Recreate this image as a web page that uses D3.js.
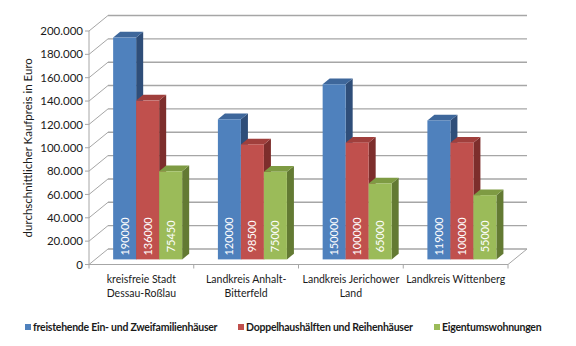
<!DOCTYPE html>
<html><head><meta charset="utf-8">
<script src="https://cdn.jsdelivr.net/npm/d3@7"></script>
<style>body{margin:0;background:#fff}svg{display:block}text{font-family:Lato,"Open Sans",sans-serif}</style>
</head><body>
<svg id="c" width="576" height="346"></svg>
<script>
const categories = [["kreisfreie Stadt","Dessau-Roßlau"],["Landkreis Anhalt-","Bitterfeld"],["Landkreis Jerichower","Land"],["Landkreis Wittenberg"]];
const seriesNames = ["freistehende Ein- und Zweifamilienhäuser","Doppelhaushälften und Reihenhäuser","Eigentumswohnungen"];
const freistehend = [190000,120000,150000,119000];
const doppelhaus = [136000,98500,100000,100000];
const eigentum = [75450,75000,65000,55000];
const yTicks = [0,20000,40000,60000,80000,100000,120000,140000,160000,180000,200000];
const yTickLabels = ["0","20.000","40.000","60.000","80.000","100.000","120.000","140.000","160.000","180.000","200.000"];
const yTitle = "durchschnittlicher Kaufpreis in Euro";

const series = [freistehend, doppelhaus, eigentum];
const colors = [
  {front:"#4F81BD", top:"#3E679B", side:"#2F4E79"},
  {front:"#C0504D", top:"#A03F3C", side:"#7D2E2C"},
  {front:"#9BBB59", top:"#7E9B43", side:"#637A33"}
];

const svg = d3.select("#c");
const x0 = 89, x1 = 508, DX = 19, DY = -15.5;
const y = d3.scaleLinear().domain([0,200000]).range([264.5,31]);
const xc = d3.scaleBand().domain(d3.range(categories.length)).range([x0,x1]).paddingInner(0).paddingOuter(0);
const barW = 23;
const grid = "#A6A6A6";

const P = (px, v, z) => [px + z*DX, y(v) + z*DY];

const g = svg.append("g");
yTicks.forEach(t => {
  const a = P(x0, t, 0), b = P(x0, t, 1), c = P(x1, t, 1);
  g.append("line").attr("x1",a[0]).attr("y1",a[1]).attr("x2",b[0]).attr("y2",b[1]).attr("stroke",grid).attr("stroke-width",1);
  g.append("line").attr("x1",b[0]).attr("y1",b[1]).attr("x2",c[0]).attr("y2",c[1]).attr("stroke",grid).attr("stroke-width",1.4);
});
{
  const a = P(x0,0,0), b = P(x1,0,0), c = P(x1,0,1);
  g.append("line").attr("x1",a[0]).attr("y1",a[1]).attr("x2",b[0]).attr("y2",b[1]).attr("stroke",grid);
  g.append("line").attr("x1",b[0]).attr("y1",b[1]).attr("x2",c[0]).attr("y2",c[1]).attr("stroke",grid);
}
g.append("line").attr("x1",x0).attr("x2",x0).attr("y1",y(0)).attr("y2",y(200000)).attr("stroke",grid);
yTicks.forEach((t,i) => {
  g.append("line").attr("x1",x0-4).attr("x2",x0).attr("y1",y(t)).attr("y2",y(t)).attr("stroke",grid);
  svg.append("text").attr("x",x0-6).attr("y",y(t)).attr("dy","0.36em").attr("text-anchor","end")
    .attr("font-size",11.5).attr("fill","#1a1a1a").text(yTickLabels[i]);
});
d3.range(categories.length+1).forEach(i => {
  const px = x0 + i*xc.bandwidth();
  g.append("line").attr("x1",px).attr("x2",px).attr("y1",y(0)).attr("y2",y(0)+4).attr("stroke",grid);
});
svg.append("text").attr("transform",`translate(32,${(y(0)+y(200000))/2}) rotate(-90)`)
  .attr("text-anchor","middle").attr("font-size",11.5).attr("fill","#1a1a1a").text(yTitle);

const z0 = 0.33, z1 = 0.70;
const bars = svg.append("g");
categories.forEach((cat, ci) => {
  const start = xc(ci) + (xc.bandwidth() - barW*3)/2;
  series.forEach((s, si) => {
    const v = s[ci];
    const bx = start + si*barW;
    const col = colors[si];
    const fTL = P(bx, v, z0), fTR = P(bx+barW, v, z0), fBR = P(bx+barW, 0, z0), fBL = P(bx,0,z0);
    const bTL = P(bx, v, z1), bTR = P(bx+barW, v, z1), bBR = P(bx+barW, 0, z1);
    bars.append("polygon").attr("points",[fTR,bTR,bBR,fBR].map(p=>p.join(",")).join(" ")).attr("fill",col.side);
    bars.append("polygon").attr("points",[fTL,bTL,bTR,fTR].map(p=>p.join(",")).join(" ")).attr("fill",col.top);
    bars.append("rect").attr("x",fTL[0]).attr("y",fTL[1]).attr("width",barW).attr("height",fBL[1]-fTL[1]).attr("fill",col.front);
    bars.append("text").attr("transform",`translate(${fTL[0]+barW/2},${fBL[1]-23}) rotate(-90)`)
      .attr("text-anchor","middle").attr("dy","0.36em").attr("font-size",11).attr("fill","#ffffff").text(v);
  });
  const cx = xc(ci) + xc.bandwidth()/2;
  const t = svg.append("text").attr("text-anchor","middle").attr("font-size",10.5).attr("fill","#1a1a1a");
  cat.forEach((line, li) => t.append("tspan").attr("x",cx).attr("y",283 + li*14).text(line));
});

// legend
const legX = [25, 238, 434];
seriesNames.forEach((n,i) => {
  svg.append("rect").attr("x",legX[i]).attr("y",324).attr("width",6).attr("height",6).attr("fill",colors[i].front);
  svg.append("text").attr("x",legX[i]+8).attr("y",327).attr("dy","0.36em").attr("font-size",10.5).attr("font-weight","bold")
    .attr("letter-spacing","-0.25").attr("fill","#1a1a1a").text(n);
});
</script>
</body></html>
